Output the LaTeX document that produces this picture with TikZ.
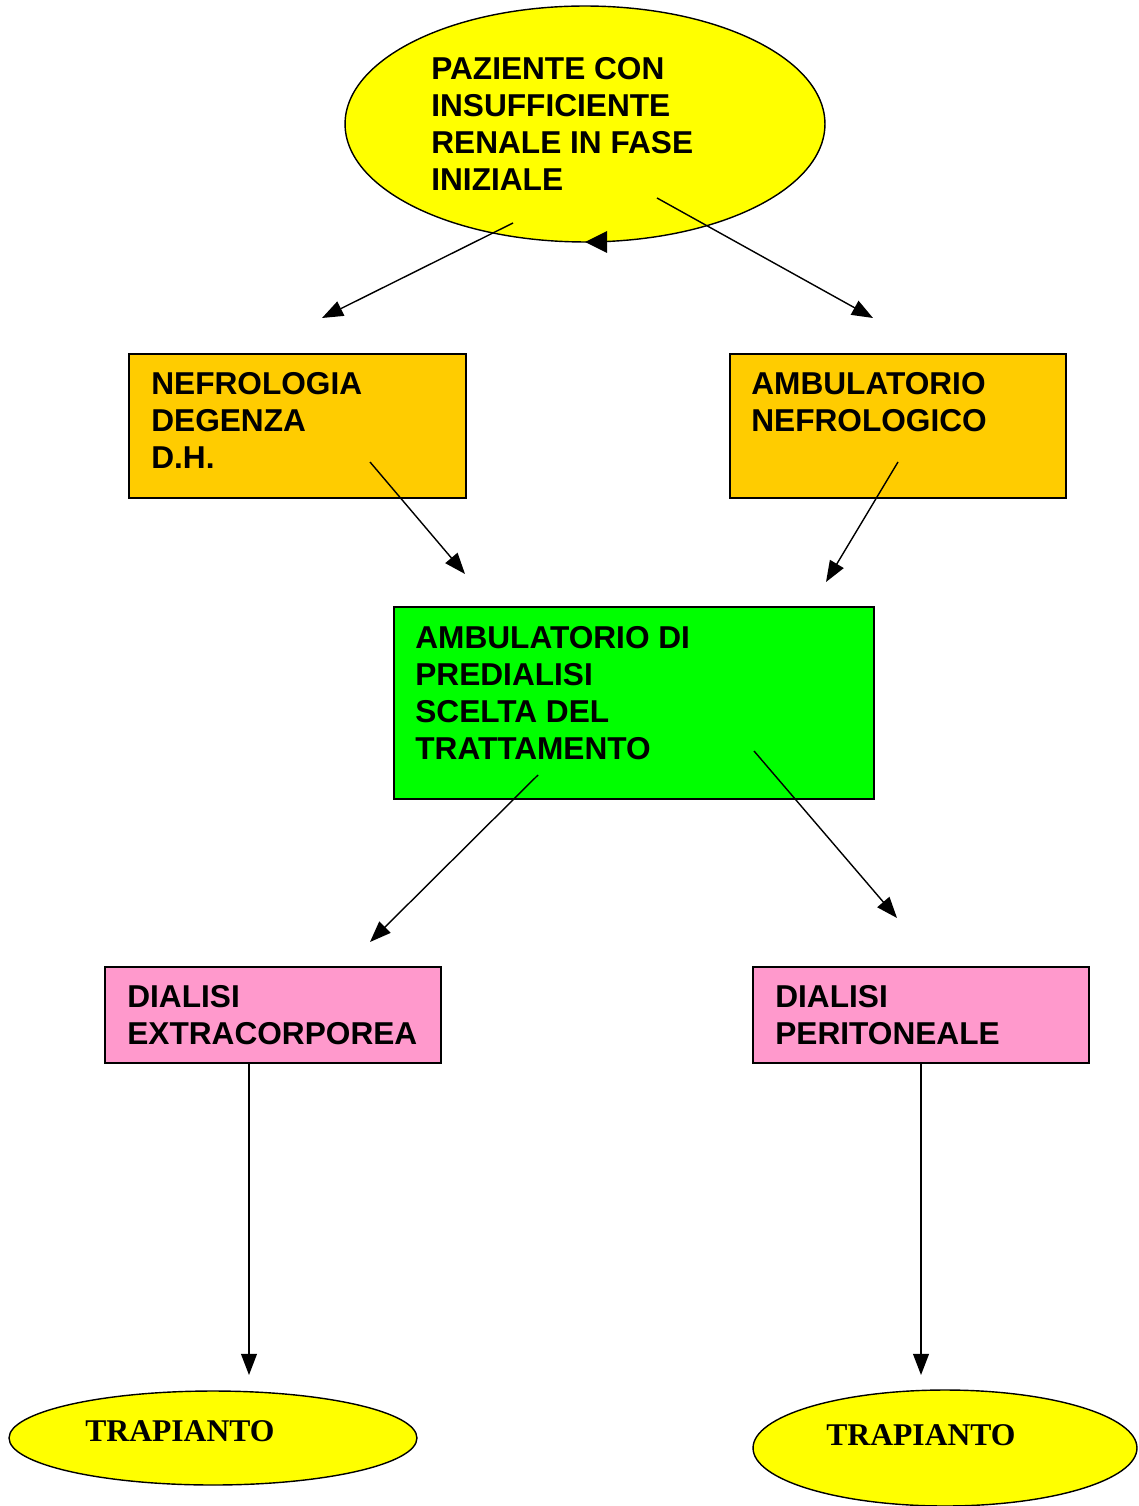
\documentclass[tikz,border=0pt]{standalone}
\usepackage{fontspec}
\setmainfont{Liberation Sans}
\newfontfamily\serifbold{Liberation Serif}
\usetikzlibrary{shapes.geometric,arrows.meta}
\definecolor{ylw}{HTML}{FFFF00}
\definecolor{org}{HTML}{FFCC00}
\definecolor{grn}{HTML}{00FF00}
\definecolor{pnk}{HTML}{FF99CC}
\tikzset{
  boxnode/.style={draw=black, line width=0.8pt, rectangle, inner sep=0pt},
  ellnode/.style={draw=black, line width=0.8pt, ellipse, fill=ylw, inner sep=0pt},
  lbl/.style={anchor=north west, inner sep=0pt, align=left, font=\fontsize{18}{21}\selectfont\bfseries},
  tlbl/.style={anchor=north west, inner sep=0pt, font=\fontsize{18}{21}\selectfont\serifbold\bfseries},
  conn/.style={line width=0.8pt, -{Triangle[length=12pt,width=9pt]}}
}
\begin{document}
\begin{tikzpicture}[x=0.02cm,y=-0.02cm]
\useasboundingbox (0,0) rectangle (1138,1506);
% shapes
\node[ellnode, minimum width=9.6cm, minimum height=4.72cm] (paz) at (585,124) {};
\node[boxnode, fill=org, minimum width=6.74cm, minimum height=2.88cm] (nef) at (297.5,426) {};
\node[boxnode, fill=org, minimum width=6.72cm, minimum height=2.88cm] (amb) at (898,426) {};
\node[boxnode, fill=grn, minimum width=9.6cm, minimum height=3.84cm] (pre) at (634,703) {};
\node[boxnode, fill=pnk, minimum width=6.72cm, minimum height=1.92cm] (dext) at (273,1015) {};
\node[boxnode, fill=pnk, minimum width=6.72cm, minimum height=1.92cm] (dper) at (921,1015) {};
\node[ellnode, minimum width=8.16cm, minimum height=1.88cm] (tr1) at (213,1438) {};
\node[ellnode, minimum width=7.68cm, minimum height=2.32cm] (tr2) at (945,1448) {};
% texts
\node[lbl] (pazt) at (431,57) {PAZIENTE CON\\INSUFFICIENTE\\RENALE IN FASE\\INIZIALE};
\node[lbl] (neft) at (151,372) {NEFROLOGIA\\DEGENZA\\D.H.};
\node[lbl] (ambt) at (751,372) {AMBULATORIO\\NEFROLOGICO};
\node[lbl] (pret) at (415,626) {AMBULATORIO DI\\PREDIALISI\\SCELTA DEL\\TRATTAMENTO};
\node[lbl] (dextt) at (127,985) {DIALISI\\EXTRACORPOREA};
\node[lbl] (dpert) at (775,985) {DIALISI\\PERITONEALE};
\node[tlbl] (tr1t) at (85,1420) {TRAPIANTO};
\node[tlbl] (tr2t) at (826,1424) {TRAPIANTO};
% connector end points
\coordinate (a1s) at (513,223); \coordinate (a1e) at (322,318);
\coordinate (a2s) at (657,198); \coordinate (a2e) at (873,318);
\coordinate (a3s) at (370,462); \coordinate (a3e) at (465,574);
\coordinate (a4s) at (898,462); \coordinate (a4e) at (826,582);
\coordinate (a5s) at (538,775); \coordinate (a5e) at (370,942);
\coordinate (a6s) at (754,751); \coordinate (a6e) at (897,918);
\coordinate (a7s) at (249,1063); \coordinate (a7e) at (249,1375);
\coordinate (a8s) at (921,1063); \coordinate (a8e) at (921,1375);
\draw[conn] (a1s) -- (a1e);
\draw[conn] (a2s) -- (a2e);
\draw[conn] (a3s) -- (a3e);
\draw[conn] (a4s) -- (a4e);
\draw[conn] (a5s) -- (a5e);
\draw[conn] (a6s) -- (a6e);
\draw[conn] (a7s) -- (a7e);
\draw[conn] (a8s) -- (a8e);
% stray arrow tip on the top ellipse
\fill (585,242) -- (607,231) -- (607,253) -- cycle;
\end{tikzpicture}
\end{document}
